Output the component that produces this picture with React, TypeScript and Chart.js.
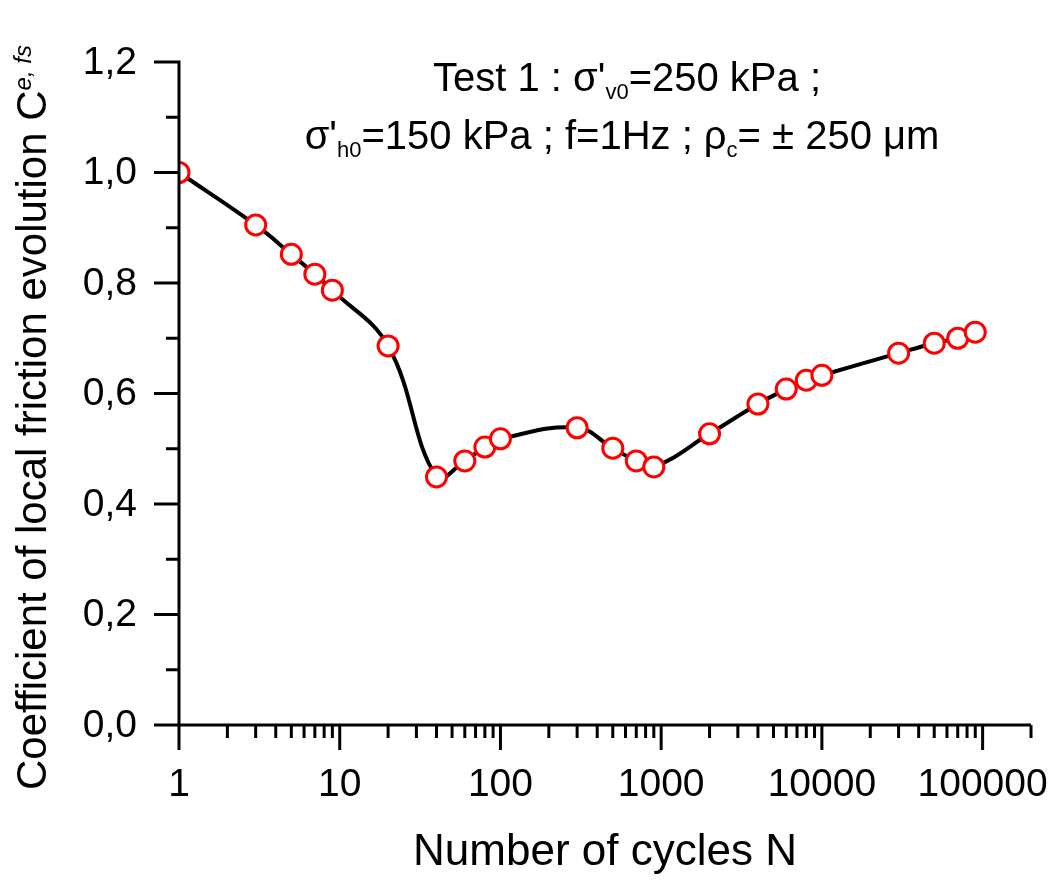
import React, { useEffect, useRef } from 'react';
import { Chart, registerables } from 'chart.js';

Chart.register(...registerables);

// ---- data ----
const cycles = [1, 3, 5, 7, 9, 20, 40, 60, 80, 100, 300, 500, 700, 900, 2000, 4000, 6000, 8000, 10000, 30000, 50000, 70000, 90000];
const coeff = [1.0, 0.905, 0.852, 0.816, 0.787, 0.686, 0.449, 0.478, 0.503, 0.518, 0.538, 0.501, 0.478, 0.467, 0.527, 0.581, 0.608, 0.624, 0.633, 0.673, 0.691, 0.700, 0.711];

const xMajorTicks = [1, 10, 100, 1000, 10000, 100000];
const xTickLabels = ['1', '10', '100', '1000', '10000', '100000'];
const xMinorMultipliers = [2, 3, 4, 5, 6, 7, 8, 9];
const xMin = 1;
const xMax = 200000;

const yMajorTicks = [0, 0.2, 0.4, 0.6, 0.8, 1.0, 1.2];
const yTickLabels = ['0,0', '0,2', '0,4', '0,6', '0,8', '1,0', '1,2'];
const yMinorTicks = [0.1, 0.3, 0.5, 0.7, 0.9, 1.1];

const FONT = '"Liberation Sans", Arial, sans-serif';

type Run = { t: string; size: number; dy?: number; italic?: boolean };

function drawRuns(ctx: CanvasRenderingContext2D, runs: Run[], x: number, y: number, align: 'left' | 'center') {
  let total = 0;
  const widths = runs.map((r) => {
    ctx.font = `${r.italic ? 'italic ' : ''}${r.size}px ${FONT}`;
    const w = ctx.measureText(r.t).width;
    total += w;
    return w;
  });
  let cx = align === 'center' ? x - total / 2 : x;
  ctx.textAlign = 'left';
  ctx.textBaseline = 'alphabetic';
  runs.forEach((r, i) => {
    ctx.font = `${r.italic ? 'italic ' : ''}${r.size}px ${FONT}`;
    ctx.fillText(r.t, cx, y + (r.dy || 0));
    cx += widths[i];
  });
}

const decorPlugin = {
  id: 'decor',
  afterDatasetsDraw(chart: any) {
    const ctx = chart.ctx as CanvasRenderingContext2D;
    const xs = chart.scales.x;
    const ys = chart.scales.y;
    const left = chart.chartArea.left;
    const bottom = chart.chartArea.bottom;
    const top = ys.getPixelForValue(1.2);
    const right = xs.getPixelForValue(xMax);
    ctx.save();
    ctx.strokeStyle = '#000';
    ctx.lineWidth = 3;
    ctx.lineCap = 'butt';
    ctx.beginPath();
    // axis lines
    ctx.moveTo(left, top - 1.5);
    ctx.lineTo(left, bottom);
    ctx.moveTo(left, bottom);
    ctx.lineTo(right, bottom);
    // y ticks
    yMajorTicks.forEach((v) => {
      const p = ys.getPixelForValue(v);
      ctx.moveTo(left - 25, p);
      ctx.lineTo(left, p);
    });
    yMinorTicks.forEach((v) => {
      const p = ys.getPixelForValue(v);
      ctx.moveTo(left - 13, p);
      ctx.lineTo(left, p);
    });
    // x ticks
    xMajorTicks.forEach((v) => {
      const p = xs.getPixelForValue(v);
      ctx.moveTo(p, bottom);
      ctx.lineTo(p, bottom + 25);
    });
    xMajorTicks.forEach((d) => {
      xMinorMultipliers.forEach((m) => {
        const v = d * m;
        if (v > xMax) return;
        const p = xs.getPixelForValue(v);
        ctx.moveTo(p, bottom);
        ctx.lineTo(p, bottom + 13);
      });
    });
    ctx.stroke();

    ctx.fillStyle = '#000';
    // tick labels
    ctx.font = `39px ${FONT}`;
    ctx.textAlign = 'right';
    ctx.textBaseline = 'middle';
    yMajorTicks.forEach((v, i) => {
      ctx.fillText(yTickLabels[i], left - 42, ys.getPixelForValue(v) + 1);
    });
    ctx.textAlign = 'center';
    ctx.textBaseline = 'alphabetic';
    xMajorTicks.forEach((v, i) => {
      ctx.fillText(xTickLabels[i], xs.getPixelForValue(v), bottom + 71);
    });

    // in-plot title
    drawRuns(ctx, [
      { t: "Test 1 : \u03c3'", size: 40 },
      { t: 'v0', size: 22, dy: 8 },
      { t: '=250 kPa ;', size: 40 },
    ], 627, 91, 'center');
    drawRuns(ctx, [
      { t: "\u03c3'", size: 40 },
      { t: 'h0', size: 22, dy: 8 },
      { t: '=150 kPa ; f=1Hz ; \u03c1', size: 40 },
      { t: 'c', size: 22, dy: 8 },
      { t: '= \u00b1 250 \u03bcm', size: 40 },
    ], 622, 149, 'center');

    // x axis title
    drawRuns(ctx, [{ t: 'Number of cycles N', size: 44 }], (left + right) / 2, 865, 'center');

    // y axis title (rotated)
    ctx.save();
    ctx.translate(46, 790);
    ctx.rotate(-Math.PI / 2);
    drawRuns(ctx, [
      { t: 'Coefficient of local friction evolution C', size: 42 },
      { t: 'e, fs', size: 24, dy: -15, italic: true },
    ], 0, 0, 'left');
    ctx.restore();
    ctx.restore();
  },
};

export default function App() {
  const ref = useRef<HTMLCanvasElement>(null);
  useEffect(() => {
    if (!ref.current) return;
    const chart = new Chart(ref.current, {
      type: 'line',
      data: {
        datasets: [
          {
            data: cycles.map((c, i) => ({ x: c, y: coeff[i] })),
            borderColor: '#000',
            borderWidth: 4,
            tension: 0.4,
            pointRadius: 10,
            pointBorderWidth: 3,
            pointBorderColor: '#ff0000',
            pointBackgroundColor: '#ffffff',
            fill: false,
          },
        ],
      },
      options: {
        animation: false,
        responsive: false,
        devicePixelRatio: 1,
        layout: { padding: { left: 0, top: 62, right: 25, bottom: 0 } },
        plugins: { legend: { display: false }, tooltip: { enabled: false }, title: { display: false } },
        scales: {
          x: {
            type: 'logarithmic',
            min: xMin,
            max: xMax,
            grid: { display: false, drawTicks: false },
            border: { display: false },
            afterFit: (s: any) => {
              s.height = 156;
            },
            ticks: { display: false },
          },
          y: {
            type: 'linear',
            min: 0,
            max: 1.2,
            grid: { display: false, drawTicks: false },
            border: { display: false },
            afterFit: (s: any) => {
              s.width = 179;
            },
            ticks: { display: false },
          },
        },
      },
      plugins: [decorPlugin],
    });
    return () => chart.destroy();
  }, []);
  return (
    <div style={{ position: 'fixed', left: 0, top: 0, width: 1056, height: 881, background: '#fff' }}>
      <canvas ref={ref} width={1056} height={881} style={{ width: 1056, height: 881, display: 'block' }} />
    </div>
  );
}
